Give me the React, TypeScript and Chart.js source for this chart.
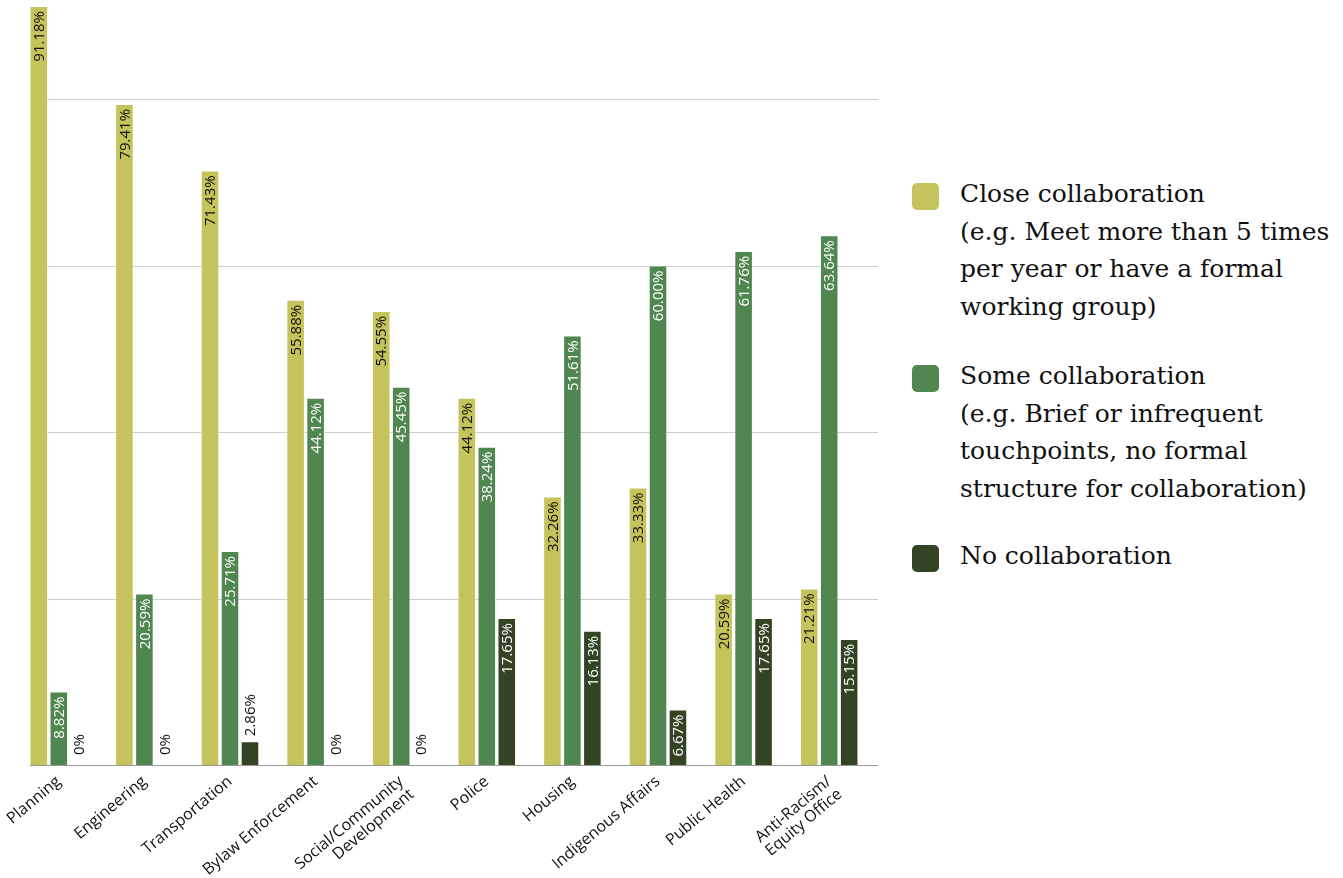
import React, { useEffect, useRef } from "react";
import { Chart, registerables } from "chart.js";

Chart.register(...registerables);

const categories: (string | string[])[] = [
  "Planning",
  "Engineering",
  "Transportation",
  "Bylaw Enforcement",
  ["Social/Community", "Development"],
  "Police",
  "Housing",
  "Indigenous Affairs",
  "Public Health",
  ["Anti-Racism/", "Equity Office"],
];

const closeCollab = [91.18, 79.41, 71.43, 55.88, 54.55, 44.12, 32.26, 33.33, 20.59, 21.21];
const someCollab = [8.82, 20.59, 25.71, 44.12, 45.45, 38.24, 51.61, 60.0, 61.76, 63.64];
const noCollab = [0, 0, 2.86, 0, 0, 17.65, 16.13, 6.67, 17.65, 15.15];

const gridValues = [20, 40, 60, 80];

const seriesNames = ["Close collaboration", "Some collaboration", "No collaboration"];
const colors = ["#c5c35b", "#50864f", "#344324"];
const insideText = ["#111111", "#ffffff", "#ffffff"];

const legendLines: string[][] = [
  ["Close collaboration", "(e.g. Meet more than 5 times", "per year or have a formal", "working group)"],
  ["Some collaboration", "(e.g. Brief or infrequent", "touchpoints, no formal", "structure for collaboration)"],
  ["No collaboration"],
];

const gridPlugin = {
  id: "customGrid",
  beforeDatasetsDraw(chart: any) {
    const { ctx, scales } = chart;
    const y = scales.y;
    const x0 = 30;
    const x1 = 878;
    ctx.save();
    ctx.lineWidth = 1;
    ctx.strokeStyle = "#cccccc";
    gridValues.forEach((v) => {
      const py = Math.round(y.getPixelForValue(v)) + 0.5;
      ctx.beginPath();
      ctx.moveTo(x0, py);
      ctx.lineTo(x1, py);
      ctx.stroke();
    });
    ctx.restore();
  },
  afterDatasetsDraw(chart: any) {
    const { ctx, scales } = chart;
    const y = scales.y;
    const py = Math.round(y.getPixelForValue(0)) + 0.5;
    ctx.save();
    ctx.lineWidth = 1;
    ctx.strokeStyle = "#999999";
    ctx.beginPath();
    ctx.moveTo(30, py);
    ctx.lineTo(878, py);
    ctx.stroke();
    ctx.restore();
  },
};

const labelPlugin = {
  id: "barLabels",
  afterDatasetsDraw(chart: any) {
    const { ctx } = chart;
    ctx.save();
    ctx.font = "500 15px 'Open Sans'";
    ctx.textBaseline = "middle";
    chart.data.datasets.forEach((ds: any, di: number) => {
      const meta = chart.getDatasetMeta(di);
      meta.data.forEach((bar: any, i: number) => {
        const v = ds.data[i] as number;
        const text = v === 0 ? "0%" : v.toFixed(2) + "%";
        const w = ctx.measureText(text).width;
        const h = bar.base - bar.y;
        ctx.save();
        ctx.translate(bar.x + 1, bar.y);
        ctx.rotate(-Math.PI / 2);
        if (h >= w + 10) {
          ctx.fillStyle = insideText[di];
          ctx.textAlign = "right";
          ctx.fillText(text, -5, 0);
        } else {
          ctx.fillStyle = "#111111";
          ctx.textAlign = "left";
          ctx.fillText(text, v === 0 ? 10 : 5, 0);
        }
        ctx.restore();
      });
    });
    ctx.restore();
  },
};

export default function App() {
  const ref = useRef<HTMLCanvasElement>(null);

  useEffect(() => {
    document.body.style.margin = "0";
    const chart = new Chart(ref.current!, {
      type: "bar",
      data: {
        labels: categories,
        datasets: [closeCollab, someCollab, noCollab].map((d, i) => ({
          label: seriesNames[i],
          data: d,
          backgroundColor: colors[i],
          borderColor: "rgba(255,255,255,0.45)",
          borderWidth: 1,
          categoryPercentage: 0.7,
          barPercentage: 0.93,
        })),
      },
      options: {
        responsive: false,
        animation: false,
        layout: { padding: { top: 0, right: 8, bottom: 0, left: 0 } },
        plugins: {
          legend: { display: false },
          tooltip: { enabled: false },
          title: { display: false },
        },
        scales: {
          x: {
            grid: { display: false },
            border: { display: false },
            ticks: {
              maxRotation: 40,
              minRotation: 40,
              color: "#111111",
              padding: 0,
              font: { family: "'Open Sans'", size: 16, weight: 500, lineHeight: 1.05 },
            },
            afterFit(scale: any) {
              scale.height = 113;
              scale.paddingLeft = 0;
              scale.paddingRight = 0;
            },
          },
          y: {
            min: 0,
            max: 91.9,
            grid: { display: false },
            border: { display: false },
            ticks: { display: false, stepSize: 20 },
            afterFit(scale: any) {
              scale.width = 16;
            },
          },
        },
      },
      plugins: [gridPlugin, labelPlugin],
    });
    return () => chart.destroy();
  }, []);

  const tops = [175, 357, 537];

  return (
    <div style={{ position: "absolute", left: 0, top: 0, width: 1343, height: 878, background: "#ffffff" }}>
      <canvas ref={ref} width={880} height={878} style={{ position: "absolute", left: 0, top: 0 }} />
      {legendLines.map((lines, i) => (
        <div key={i}>
          <div
            style={{
              position: "absolute",
              left: 912,
              top: tops[i] + 8,
              width: 27,
              height: 27,
              borderRadius: 5,
              background: colors[i],
            }}
          />
          <div
            style={{
              position: "absolute",
              left: 960,
              top: tops[i],
              fontFamily: "'DejaVu Serif'",
              fontSize: 25,
              lineHeight: "37.5px",
              color: "#111111",
              whiteSpace: "nowrap",
            }}
          >
            {lines.map((l, j) => (
              <div key={j}>{l}</div>
            ))}
          </div>
        </div>
      ))}
    </div>
  );
}
